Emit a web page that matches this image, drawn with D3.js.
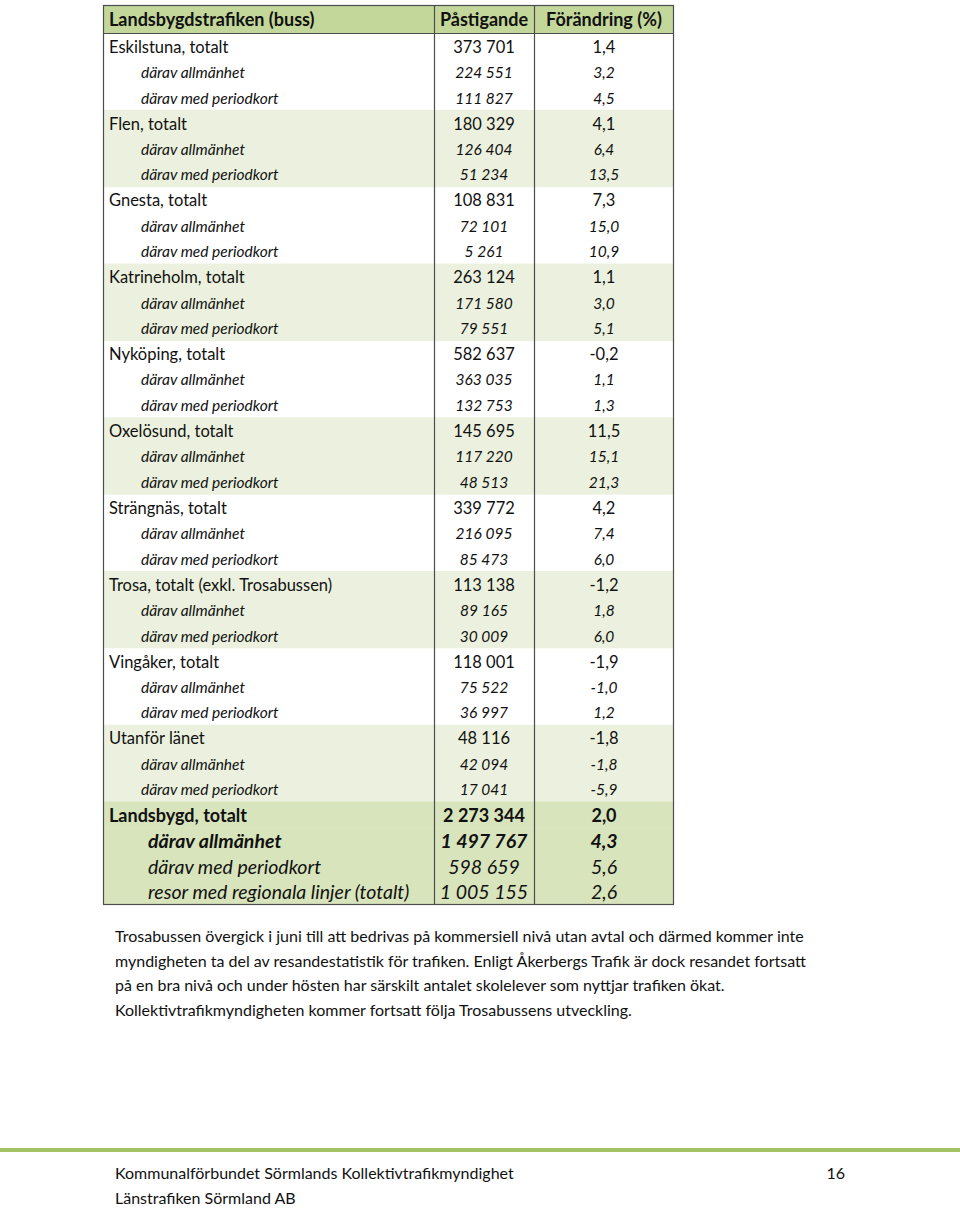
<!DOCTYPE html>
<html lang="sv">
<head>
<meta charset="utf-8">
<script src="https://d3js.org/d3.v7.min.js"></script>
<style>
  body { margin: 0; background: #fff; }
  svg text { font-family: Lato, "Open Sans", sans-serif; fill: #111; }
</style>
</head>
<body>
<script>
// table data
const headers = ["Landsbygdstrafiken (buss)", "Påstigande", "Förändring (%)"];
const places = ["Eskilstuna, totalt", "Flen, totalt", "Gnesta, totalt", "Katrineholm, totalt",
  "Nyköping, totalt", "Oxelösund, totalt", "Strängnäs, totalt", "Trosa, totalt (exkl. Trosabussen)",
  "Vingåker, totalt", "Utanför länet"];
const totalPass = [373701, 180329, 108831, 263124, 582637, 145695, 339772, 113138, 118001, 48116];
const totalChange = [1.4, 4.1, 7.3, 1.1, -0.2, 11.5, 4.2, -1.2, -1.9, -1.8];
const publicPass = [224551, 126404, 72101, 171580, 363035, 117220, 216095, 89165, 75522, 42094];
const publicChange = [3.2, 6.4, 15.0, 3.0, 1.1, 15.1, 7.4, 1.8, -1.0, -1.8];
const periodPass = [111827, 51234, 5261, 79551, 132753, 48513, 85473, 30009, 36997, 17041];
const periodChange = [4.5, 13.5, 10.9, 5.1, 1.3, 21.3, 6.0, 6.0, 1.2, -5.9];
const sumLabels = ["Landsbygd, totalt", "därav allmänhet", "därav med periodkort", "resor med regionala linjer (totalt)"];
const sumPass = [2273344, 1497767, 598659, 1005155];
const sumChange = [2.0, 4.3, 5.6, 2.6];

const note = [
  "Trosabussen övergick i juni till att bedrivas på kommersiell nivå utan avtal och därmed kommer inte",
  "myndigheten ta del av resandestatistik för trafiken. Enligt Åkerbergs Trafik är dock resandet fortsatt",
  "på en bra nivå och under hösten har särskilt antalet skolelever som nyttjar trafiken ökat.",
  "Kollektivtrafikmyndigheten kommer fortsatt följa Trosabussens utveckling."
];
const footer = ["Kommunalförbundet Sörmlands Kollektivtrafikmyndighet", "Länstrafiken Sörmland AB"];
const pageNo = "16";

// build rows
const rows = [];
places.forEach((p, i) => {
  rows.push({label: p, pass: totalPass[i], change: totalChange[i], type: "total", group: i});
  rows.push({label: "därav allmänhet", pass: publicPass[i], change: publicChange[i], type: "sub", group: i});
  rows.push({label: "därav med periodkort", pass: periodPass[i], change: periodChange[i], type: "sub", group: i});
});
const types = ["sum", "sumBoldItalic", "sumItalic", "sumItalic"];
sumLabels.forEach((l, i) => rows.push({label: l, pass: sumPass[i], change: sumChange[i], type: types[i], group: -1}));

const sv = d3.formatLocale({decimal: ",", thousands: "\u00a0", grouping: [3], currency: ["", " kr"], minus: "-"});
const fmtN = sv.format(",d");
const fmtP = sv.format(".1f");

const W = 960, H = 1208;
const tLeft = 103, c1 = 434, c2 = 534, tRight = 674;
const tTop = 5, headBottom = 33, tBottom = 904;

const svg = d3.select("body").append("svg").attr("width", W).attr("height", H);

const y = d3.scaleBand().domain(d3.range(rows.length)).range([headBottom, tBottom]);

const style = {
  total: {size: 16.5, weight: "normal", italic: false, indent: 6},
  sub: {size: 15.5, weight: "normal", italic: true, indent: 38},
  sum: {size: 18, weight: "bold", italic: false, indent: 6},
  sumBoldItalic: {size: 19.5, weight: "bold", italic: true, indent: 45},
  sumItalic: {size: 19.5, weight: "normal", italic: true, indent: 45}
};

// header band
svg.append("rect").attr("x", tLeft).attr("y", tTop).attr("width", tRight - tLeft).attr("height", headBottom - tTop)
  .attr("fill", "#c4d79b");

// row bands
svg.selectAll("rect.band").data(rows.map((d, i) => ({d, i})).filter(o => o.d.group === -1 || o.d.group % 2 === 1))
  .join("rect").attr("class", "band")
  .attr("x", tLeft).attr("width", tRight - tLeft)
  .attr("y", o => y(o.i)).attr("height", y.bandwidth() + 0.5)
  .attr("fill", o => o.d.group === -1 ? "#d8e4bc" : "#ebf1de");

// header text
const hx = [tLeft + 6, (c1 + c2) / 2, (c2 + tRight) / 2];
svg.selectAll("text.head").data(headers).join("text").attr("class", "head")
  .attr("x", (d, i) => hx[i]).attr("y", (tTop + headBottom) / 2 + 7)
  .attr("text-anchor", (d, i) => i === 0 ? "start" : "middle")
  .attr("font-size", 18).attr("font-weight", "bold").text(d => d);

// cells
const g = svg.selectAll("g.row").data(rows).join("g").attr("class", "row")
  .attr("transform", (d, i) => `translate(0,${y(i) + y.bandwidth() / 2 + 1})`);

function cell(sel) {
  sel.attr("font-size", d => style[d.type].size)
    .attr("font-weight", d => style[d.type].weight)
    .attr("font-style", d => style[d.type].italic ? "italic" : "normal")
    .attr("dy", d => style[d.type].size * 0.36);
}
g.append("text").attr("x", d => tLeft + style[d.type].indent).call(cell).text(d => d.label);
g.append("text").attr("x", (c1 + c2) / 2).attr("text-anchor", "middle").call(cell).text(d => fmtN(d.pass));
g.append("text").attr("x", (c2 + tRight) / 2).attr("text-anchor", "middle").call(cell).text(d => fmtP(d.change));

// grid lines
const line = "#4d4d4d";
svg.append("rect").attr("x", tLeft + 0.5).attr("y", tTop + 0.5).attr("width", tRight - tLeft - 1).attr("height", tBottom - tTop)
  .attr("fill", "none").attr("stroke", line).attr("stroke-width", 1.2);
svg.append("line").attr("x1", tLeft).attr("x2", tRight).attr("y1", headBottom + 0.5).attr("y2", headBottom + 0.5)
  .attr("stroke", line).attr("stroke-width", 1.2);
[c1, c2].forEach(cx => svg.append("line").attr("x1", cx + 0.5).attr("x2", cx + 0.5).attr("y1", tTop).attr("y2", tBottom)
  .attr("stroke", line).attr("stroke-width", 1.2));

// note text
svg.selectAll("text.note").data(note).join("text").attr("class", "note")
  .attr("x", 115).attr("y", (d, i) => 942 + i * 24.5).attr("font-size", 16).text(d => d);

// footer
svg.append("rect").attr("x", 0).attr("y", 1148).attr("width", W).attr("height", 4).attr("fill", "#a3c165");
svg.selectAll("text.foot").data(footer).join("text").attr("class", "foot")
  .attr("x", 115).attr("y", (d, i) => 1179 + i * 25).attr("font-size", 16).text(d => d);
svg.append("text").attr("x", 845).attr("y", 1179).attr("text-anchor", "end").attr("font-size", 16).text(pageNo);
</script>
</body>
</html>
